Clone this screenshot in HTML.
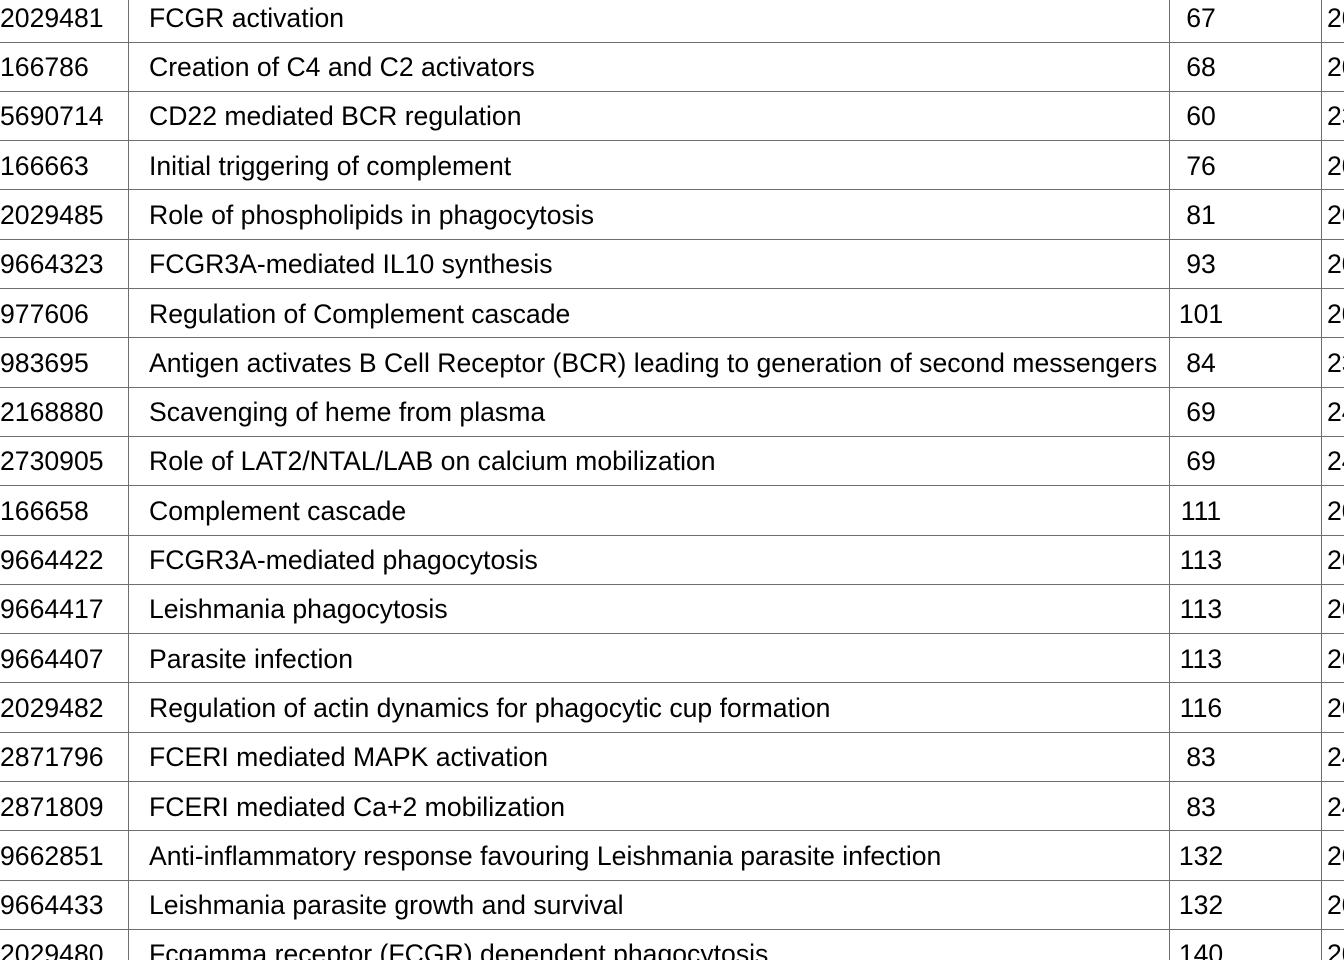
<!DOCTYPE html>
<html><head><meta charset="utf-8">
<style>
html,body{margin:0;padding:0;background:#fff;width:1344px;height:960px;overflow:hidden;}
#tbl{position:relative;width:1344px;height:960px;font-family:"Liberation Sans",Arial,sans-serif;font-size:26.6px;color:#000;}
.hl{position:absolute;left:0;width:1344px;height:1px;background:#6e6e6e;}
.vl{position:absolute;top:0;width:1px;height:960px;background:#6e6e6e;}
.c{position:absolute;height:49px;line-height:49px;white-space:nowrap;}
.id{left:0;}
.nm{left:149px;}
.n{left:1170px;width:62px;text-align:center;}
.x{left:1327px;}
</style></head>
<body>
<div id="tbl">
<div class="vl" style="left:128px"></div>
<div class="vl" style="left:1169px"></div>
<div class="vl" style="left:1321px"></div>
</div>
<script>
const ids=["2029481","166786","5690714","166663","2029485","9664323","977606","983695","2168880","2730905","166658","9664422","9664417","9664407","2029482","2871796","2871809","9662851","9664433","2029480"];
const names=["FCGR activation","Creation of C4 and C2 activators","CD22 mediated BCR regulation","Initial triggering of complement","Role of phospholipids in phagocytosis","FCGR3A-mediated IL10 synthesis","Regulation of Complement cascade","Antigen activates B Cell Receptor (BCR) leading to generation of second messengers","Scavenging of heme from plasma","Role of LAT2/NTAL/LAB on calcium mobilization","Complement cascade","FCGR3A-mediated phagocytosis","Leishmania phagocytosis","Parasite infection","Regulation of actin dynamics for phagocytic cup formation","FCERI mediated MAPK activation","FCERI mediated Ca+2 mobilization","Anti-inflammatory response favouring Leishmania parasite infection","Leishmania parasite growth and survival","Fcgamma receptor (FCGR) dependent phagocytosis"];
const counts=["67","68","60","76","81","93","101","84","69","69","111","113","113","113","116","83","83","132","132","140"];
const extra=["20","20","23","20","20","20","20","23","24","24","20","20","20","20","20","24","24","20","20","20"];
const t=document.getElementById('tbl');
const rh=49.3;
for(let i=0;i<ids.length;i++){
  const top=42-rh+i*rh+1;
  const row=[["id",ids[i]],["nm",names[i]],["n",counts[i]],["x",extra[i]]];
  for(const [cls,txt] of row){
    const d=document.createElement('div');
    d.className='c '+cls;
    d.style.top=(top)+'px';
    d.textContent=txt;
    
    
    t.appendChild(d);
  }
  const l=document.createElement('div');
  l.className='hl';
  l.style.top=Math.round(42+i*rh-0.5)+'px';
  
  
  t.appendChild(l);
}
</script>
</body></html>
